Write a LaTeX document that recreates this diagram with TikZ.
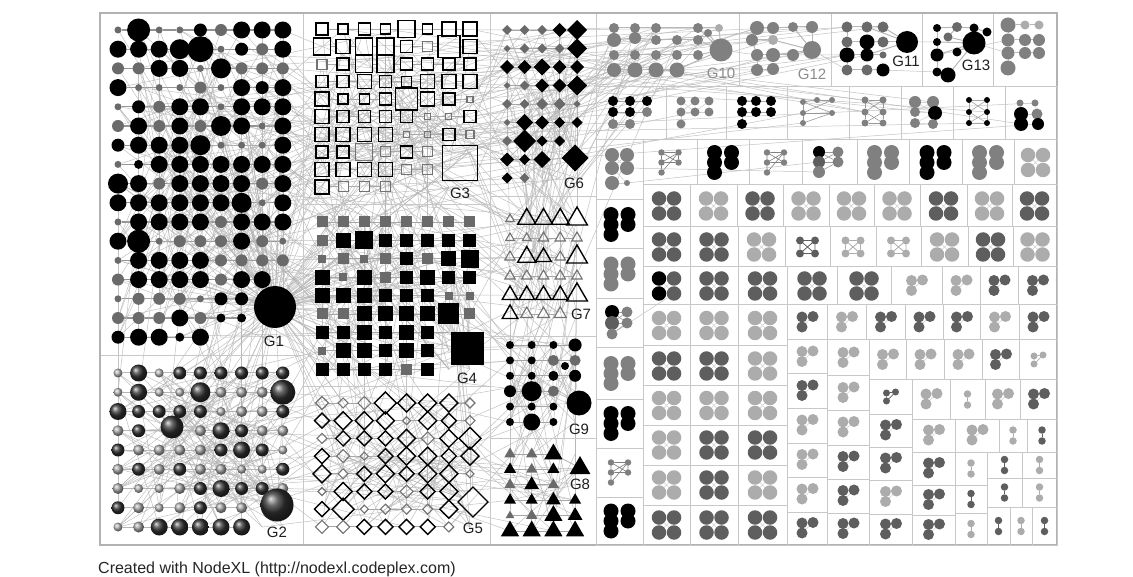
\documentclass[tikz,border=0pt]{standalone}
\usepackage{fontspec}
\setmainfont{Liberation Sans}
\usetikzlibrary{shapes.geometric}
\pgfdeclarelayer{bg}\pgfdeclarelayer{edges}\pgfdeclarelayer{frames}
\pgfsetlayers{bg,edges,frames,main}
\definecolor{ck}{HTML}{000000}
\definecolor{cd}{HTML}{5E5E5E}
\definecolor{cm}{HTML}{808080}
\definecolor{cl}{HTML}{ACACAC}
\definecolor{gg}{HTML}{6A6A6A}
\definecolor{frc}{HTML}{C8C8C8}
\definecolor{edc}{HTML}{B4B4B4}
\tikzset{
 ndot/.style={circle,inner sep=0pt,outer sep=0pt,minimum size=#1},
 nsq/.style={rectangle,inner sep=0pt,outer sep=0pt,minimum size=#1},
 ndia/.style={diamond,inner sep=0pt,outer sep=0pt,minimum size=#1},
 ntri/.style={regular polygon,regular polygon sides=3,inner sep=0pt,outer sep=0pt,minimum size=#1},
 sqk/.style={draw=black,line width=1.4pt},
 sqg/.style={draw=black!55,line width=1.1pt},
 lnk/.style={draw=edc,line width=0.5pt,opacity=0.8},
 hl/.style={draw=black!42,line width=1.3pt},
 hl2/.style={draw=black!28,line width=1pt},
 hl3/.style={draw=black!35,line width=0.9pt},
 inlnk/.style={draw=black!18,line width=0.6pt},
 boxf/.style={draw=frc,line width=1pt},
 glab/.style={font=\fontsize{15}{15}\selectfont,inner sep=0pt,text=black!88},
 As/.style={ndot=7,fill=gg}, Ag/.style={ndot=12,fill=gg}, Ab/.style={ndot=13,fill=black},
 AB/.style={ndot=17,fill=black}, At/.style={ndot=9,fill=black}, AH/.style={ndot=20,fill=black},
 AI/.style={ndot=23,fill=black}, AJ/.style={ndot=26,fill=black}, Ax/.style={shape=coordinate},
 Bs/.style={ndot=9,ball color=black!30}, Bm/.style={ndot=11,ball color=black!35},
 Bd/.style={ndot=13,ball color=black!80}, BD/.style={ndot=17,ball color=black!80},
 BE/.style={ndot=20,ball color=black!80}, BJ/.style={ndot=25,ball color=black!80}, Bx/.style={shape=coordinate},
 Ca/.style={nsq=6,sqg}, Cb/.style={nsq=8,sqg}, Cc/.style={nsq=10,sqg}, Ci/.style={nsq=17,sqg},
 Cd/.style={nsq=10,sqk}, Ce/.style={nsq=12,sqk}, Cf/.style={nsq=14,sqk}, Cg/.style={nsq=17,sqk},
 Ch/.style={nsq=22,sqk}, Cx/.style={shape=coordinate},
 Dp/.style={nsq=8,fill=gg}, Dq/.style={nsq=11,fill=gg}, Dr/.style={nsq=13,fill=black},
 DR/.style={nsq=15,fill=black}, DS/.style={nsq=18,fill=black}, DT/.style={nsq=21,fill=black}, Dx/.style={shape=coordinate},
 Eu/.style={ndia=8,sqg}, Ev/.style={ndia=10,sqg}, Ew/.style={ndia=13,sqg},
 Ey/.style={ndia=15,sqk}, Ez/.style={ndia=18,sqk}, EZ/.style={ndia=22,sqk}, Ex/.style={shape=coordinate},
 Fs/.style={ndia=7,fill=gg}, Fg/.style={ndia=10,fill=gg}, Fh/.style={ndia=12,fill=gg},
 Fm/.style={ndia=11,fill=black}, Fn/.style={ndia=14,fill=black}, Fo/.style={ndia=17,fill=black},
 Fp/.style={ndia=20,fill=black}, Fq/.style={ndia=23,fill=black}, Fx/.style={shape=coordinate},
 Ga/.style={ntri=10,sqg}, Gb/.style={ntri=12,sqg}, Gc/.style={ntri=14,sqg},
 Gd/.style={ntri=18,sqk}, Ge/.style={ntri=21,sqk}, Gf/.style={ntri=24,sqk}, Gx/.style={shape=coordinate},
 Ia/.style={ndot=8,fill=black}, Ib/.style={ndot=10,fill=black}, Ic/.style={ndot=12,fill=black},
 Id/.style={ndot=13,fill=black}, Ie/.style={ndot=17,fill=black}, If/.style={ndot=20,fill=black},
 Ig/.style={ndot=11,fill=gg}, Ix/.style={shape=coordinate},
 Ja/.style={ntri=10,fill=gg}, Jb/.style={ntri=13,fill=gg}, Jc/.style={ntri=14,fill=black},
 Jd/.style={ntri=17,fill=black}, Je/.style={ntri=21,fill=black}, Jx/.style={shape=coordinate}
}
% grid of named nodes
\newcommand\ggrid[7]{%
 \foreach \row [count=\gr from 0] in {#7}{%
  \foreach \code [count=\gc from 0] in \row {%
   \pgfmathsetmacro\gx{#2+#3*\gc}\pgfmathsetmacro\gy{#4+#5*\gr}%
   \edef\tmp{\noexpand\node[#6\code] (#1-\gr-\gc) at (\gx,\gy) {};}\tmp
  }}}
\newcommand\ndlist[2]{\foreach \px/\py/\ps/\pc [count=\pi] in {#2}{\node[ndot=\ps,fill=\pc] (#1-\pi) at (\px,\py) {};}}
\newcommand\hlinks[3]{\foreach \hr/\hm in {#2}{\foreach \hc in {0,...,\hm}{\pgfmathtruncatemacro\hcc{\hc+1}\draw[#3] (#1-\hr-\hc) -- (#1-\hr-\hcc);}}}
\def\pickA#1/#2/#3/#4/#5\relax{\pgfmathrandominteger{\ra}{#2}{#3}\pgfmathrandominteger{\ca}{#4}{#5}\def\na{#1}}
\def\pickB#1/#2/#3/#4/#5\relax{\pgfmathrandominteger{\rb}{#2}{#3}\pgfmathrandominteger{\cb}{#4}{#5}\def\nb{#1}}
\newcommand\rlinks[3]{\foreach \k in {1,...,#1}{\pickA#2\relax\pickB#3\relax\draw[lnk] (\na-\ra-\ca) -- (\nb-\rb-\cb);}}
\newcommand\hubl[3]{\foreach \k in {1,...,#1}{\pickB#3\relax\draw[lnk] (#2) -- (\nb-\rb-\cb);}}
% small boxes with clusters
\newcount\clid
\newcommand\clN[2]{}
\newcommand\clF[2]{%
 \foreach \q/\u/\v in {a/-7.5/-7.5,b/7.5/-7.5,c/-7.5/7.5,d/7.5/7.5}{\node[ndot=14.5,fill=#1] (#2\q) at (\u,\v) {};}%
 \begin{pgfonlayer}{edges}\draw[inlnk] (#2a)--(#2d) (#2b)--(#2c);\end{pgfonlayer}}
\newcommand\clX[2]{%
 \foreach \q/\u/\v in {a/-7.5/-6.5,b/7.5/-6.5,c/-7.5/6.5,d/7.5/6.5}{\node[ndot=8,fill=#1] (#2\q) at (\u,\v) {};}%
 \begin{pgfonlayer}{edges}\draw[draw=#1,line width=0.8pt] (#2a)--(#2b)--(#2d)--(#2c)--(#2a)--(#2d) (#2b)--(#2c);\end{pgfonlayer}}
\newcommand\clP[2]{%
 \foreach \q/\u/\v in {a/-8.5/-10,b/-8.5/0,c/-8.5/10,d/8.5/-10,e/8.5/0}{\node[ndot=15,fill=#1] (#2\q) at (\u,\v) {};}}
\newcommand\clS[2]{%
 \foreach \q/\u/\v in {a/-8.5/-10,b/-8.5/0,c/-8.5/10,d/8.5/-10,e/8.5/0}{\node[ndot=6.5,fill=#1] (#2\q) at (\u,\v) {};}%
 \begin{pgfonlayer}{edges}\draw[draw=#1,line width=0.6pt] (#2a)--(#2d) (#2a)--(#2e) (#2b)--(#2d) (#2b)--(#2e) (#2c)--(#2d) (#2a)--(#2b)--(#2c) (#2d)--(#2e);\end{pgfonlayer}}
\newcommand\clT[2]{%
 \foreach \q/\u/\v in {a/-5/-5.5,b/6/-6,c/-5/4.5}{\node[ndot=11,fill=#1] (#2\q) at (\u,\v) {};}%
 \begin{pgfonlayer}{edges}\draw[inlnk] (#2b)--(#2c);\end{pgfonlayer}}
\newcommand\clt[2]{%
 \foreach \q/\u/\v in {a/-4/-4,b/5/-5,c/-4/4}{\node[ndot=7,fill=#1] (#2\q) at (\u,\v) {};}%
 \begin{pgfonlayer}{edges}\draw[draw=#1,line width=0.7pt] (#2a)--(#2b)--(#2c)--(#2a);\end{pgfonlayer}}
\newcommand\clD[2]{%
 \node[ndot=7.5,fill=#1] (#2a) at (0,-5.5) {};\node[ndot=7.5,fill=#1] (#2b) at (0,5.5) {};%
 \begin{pgfonlayer}{edges}\draw[draw=#1,line width=1pt] (#2a)--(#2b);\end{pgfonlayer}}
\newcommand\bx[6]{%
 \begin{pgfonlayer}{frames}\draw[boxf] (#1,#2) rectangle (#3,#4);\end{pgfonlayer}%
 \pgfmathsetmacro\bcx{(#1+#3)/2}\pgfmathsetmacro\bcy{(#2+#4)/2}%
 \global\advance\clid by 1\relax
 \edef\cn{k\the\clid}\edef\bcol{c#6}%
 \begin{scope}[shift={(\bcx,\bcy)}]\csname cl#5\endcsname{\bcol}{\cn}\end{scope}}
\begin{document}
\begin{tikzpicture}[x=1pt,y=-1pt]
\useasboundingbox (0,0) rectangle (1133,577);
\begin{pgfonlayer}{bg}\fill[white] (0,0) rectangle (1133,577);\end{pgfonlayer}
% ---------- group frames
\begin{pgfonlayer}{frames}
\draw[boxf] (100,13) rectangle (303,356);
\draw[boxf] (100,356) rectangle (303,545);
\draw[boxf] (303,13) rectangle (490,205);
\draw[boxf] (303,205) rectangle (490,387);
\draw[boxf] (303,387) rectangle (490,545);
\draw[boxf] (490,13) rectangle (596,197);
\draw[boxf] (490,197) rectangle (596,337);
\draw[boxf] (490,337) rectangle (596,438);
\draw[boxf] (490,438) rectangle (596,545);
\draw[boxf] (596,13) rectangle (739,87);
\draw[boxf] (739,13) rectangle (831,87);
\draw[boxf] (831,13) rectangle (922,87);
\draw[boxf] (922,13) rectangle (993,87);
\draw[boxf] (993,13) rectangle (1057,87);
\draw[draw=black!30,line width=1.5pt] (100,13) rectangle (1057,545);
\end{pgfonlayer}
% ---------- G1
\ggrid{g1}{118}{20.6}{30}{19.2}{A}{{s,I,s,s,b,g,B,B,B},{B,B,B,H,J,s,b,g,B},{g,g,B,B,s,H,g,g,g},{B,s,s,s,g,s,B,b,B},{s,b,g,B,B,s,B,B,B},{g,B,g,B,g,H,B,s,B},{b,B,B,B,H,s,s,s,B},{s,t,B,B,B,B,B,B,B},{H,B,g,B,B,B,B,g,B},{B,B,B,B,B,B,H,s,B},{s,B,B,B,B,g,B,B,B},{B,I,s,g,g,g,B,g,s},{s,B,B,B,B,g,g,g,g},{g,B,B,B,B,g,B,B,x},{s,g,g,g,s,b,b,x,x},{g,g,g,B,g,t,t,x,x},{b,B,B,t,B,x,x,x,x}}
\node[ndot=42,fill=black] (g1h) at (275,307) {};
\node[glab] (l1) at (274,341) {G1};
% ---------- G2
\ggrid{g2}{118}{20.6}{373}{19.25}{B}{{s,D,s,d,d,d,d,d,d},{s,D,s,s,E,m,m,m,J},{D,d,d,d,d,s,m,m,d},{m,d,x,x,m,D,d,m,m},{d,m,m,m,m,d,D,d,s},{m,d,m,d,m,m,s,s,d},{m,s,s,m,d,D,d,d,m},{d,m,s,m,d,m,m,x,x},{s,m,D,D,D,D,D,x,x}}
\node[ndot=23,ball color=black!80] (g2b) at (172,427) {};
\node[ndot=33,ball color=black!80] (g2h) at (277,505) {};
\node[glab] (l2) at (277,532) {G2};
% ---------- G3
\ggrid{g3}{322}{21.14}{29}{17.55}{C}{{e,d,e,d,g,d,f,f},{g,f,g,g,e,c,h,f},{c,e,g,g,e,e,e,e},{e,e,f,e,d,f,f,f},{f,d,d,e,h,f,e,a},{f,e,e,e,e,a,a,e},{f,f,f,f,a,a,e,b},{e,e,i,c,e,c,x,x},{f,f,f,f,c,c,x,x},{f,c,c,c,x,x,x,x}}
\node[nsq=35,sqk] (g3h) at (460,163) {};
\node[glab] (l3) at (460,193) {G3};
% ---------- G4
\ggrid{g4}{322}{21.14}{222}{18.4}{D}{{q,q,q,q,q,q,q,q},{q,R,S,r,r,r,r,r},{p,q,p,q,r,q,R,S},{R,p,R,q,r,R,r,r},{R,R,R,r,r,r,p,p},{q,q,R,R,R,R,T,q},{r,r,R,r,R,r,x,x},{p,R,R,r,R,r,x,x},{r,r,r,r,q,r,x,x}}
\node[nsq=33,fill=black] (g4h) at (467,349) {};
\node[glab] (l4) at (467,378) {G4};
% ---------- G5
\ggrid{g5}{322}{21.14}{403}{17.7}{E}{{w,v,w,Z,z,z,z,v},{y,z,z,z,u,z,y,v},{v,y,y,y,z,w,z,Z},{y,w,u,y,z,z,y,z},{z,v,y,z,y,z,z,u},{u,z,y,y,w,y,z,x},{y,Z,u,v,v,v,z,x},{w,w,y,y,y,y,v,x}}
\node[ndia=30,sqk] (g5h) at (473,502) {};
\node[glab] (l5) at (473,528) {G5};
% ---------- G6
\ggrid{g6}{507}{17.5}{30}{18.5}{F}{{g,g,g,n,p},{s,g,g,g,p},{n,n,o,n,n},{s,g,n,n,p},{g,g,h,h,s},{s,o,n,m,m},{g,q,m,m,x},{n,m,o,x,x},{m,g,x,x,x}}
\node[ndia=27,fill=black] (g6h) at (575,158) {};
\node[glab] (l6) at (574,183) {G6};
% ---------- G7
\ggrid{g7}{510}{16.75}{219}{19}{G}{{a,e,e,e,f},{a,a,b,b,b},{b,e,d,b,f},{b,b,b,b,b},{d,d,d,d,f},{d,c,c,c,x}}
\node[glab] (l7) at (581,314) {G7};
% ---------- G9
\ggrid{g9}{510}{21.7}{345}{15.4}{I}{{a,a,a,d},{a,a,g,g},{a,a,b,c},{c,f,g,x},{a,a,a,x},{a,e,a,x}}
\node[ndot=8,fill=black] (g9e) at (565,366) {};
\node[ndot=25,fill=black] (g9h) at (579,403) {};
\node[glab] (l9) at (579,429) {G9};
% ---------- G8
\ggrid{g8}{510}{21.7}{454}{15.4}{J}{{b,b,e,x},{c,b,c,x},{b,d,b,x},{c,c,d,c},{a,b,e,d},{e,e,e,e}}
\node[ntri=24,fill=black] (g8h) at (580,468) {};
\node[glab] (l8) at (580,484) {G8};
% ---------- top row groups
\ndlist{g10}{614/28/10/cm,635/28/10/cm,656/28/10/cm,698/28/10/cm,719/28/8/cl,614/40/14/cm,635/38/12/cm,656/40/10/cm,677/40/10/cm,698/40/10/cm,708/33/8/cm,614/55/10/cm,635/55/10/cm,656/55/10/cm,677/55/10/cm,698/55/10/cm,614/70/14/cm,635/70/15/cm,656/70/15/cm,677/70/15/cm}
\node[ndot=23,fill=cm] (g10h) at (721,50) {};
\node[glab,text=black!45] (l10) at (721,73) {G10};
\ndlist{g12}{757/28/14/cm,773/28/12/cm,793/27/10/cm,812/27/12/cm,752/40/12/cm,773/40/10/cl,757/55/12/cm,773/55/14/cm,793/55/12/cm,757/70/12/cm,773/69/12/cm}
\node[ndot=18,fill=cm] (g12h) at (812,50) {};
\node[glab,text=black!45] (l12) at (812,74) {G12};
\ndlist{g11}{847/27/11/gg,867/27/11/gg,883/27/11/gg,847/42/11/gg,867/42/15/ck,883/42/11/gg,847/55/15/ck,867/55/13/ck,883/55/7/gg,847/70/11/gg,867/70/11/gg,883/70/13/ck}
\node[ndot=22,fill=black] (g11h) at (907,42) {};
\node[glab] (l11) at (906,61) {G11};
\ndlist{g13}{937/28/8/ck,957/27/10/gg,974/28/9/ck,987/32/9/ck,948/37/9/gg,937/42/8/ck,937/55/13/ck,957/52/9/ck,937/72/9/ck,948/75/15/ck}
\node[ndot=23,fill=black] (g13h) at (974,43) {};
\node[glab] (l13) at (976,65) {G13};
\ndlist{b5}{1008/25/15/cm,1025/25/9/cl,1039/25/9/cl,1008/40/13/cm,1025/40/12/cm,1039/40/12/cm,1008/53/13/cm,1025/53/12/cm,1039/53/12/cm,1008/68/15/cm}
% ---------- row 2 boxes
\foreach \xa/\xb in {596/666,666/726,726/787,787/849,849/901,901/953,953/1005,1005/1057}{\bx{\xa}{87}{\xb}{140}{N}{k}}
\ndlist{rA}{613/101/10/ck,630/101/10/ck,647/101/10/ck,613/112/10/ck,630/112/10/ck,647/112/10/cm,613/124/10/cm,630/124/10/cm}
\ndlist{rB}{681/101/9/cm,695/101/9/cm,709/101/9/cm,681/112/9/cm,695/112/9/cm,709/112/9/cm,681/124/9/cm}
\ndlist{rC}{742/101/10/ck,756/101/10/ck,771/101/10/ck,742/112/10/ck,756/112/10/ck,771/112/10/ck,742/124/10/ck}
\ndlist{rD}{803/102/6/cm,817/100/6/cm,832/100/6/cm,803/113/6/cm,832/113/6/cm,803/123/6/cm}
\ndlist{rE}{865/100/7/cm,883/100/7/cm,865/112/7/cm,883/112/7/cm,865/123/7/cm,883/123/7/cm}
\ndlist{rF}{915/102/12/cm,933/102/12/cm,915/112/10/cm,935/113/14/ck,915/123/10/cm,933/124/10/cm}
\ndlist{rG}{969/100/6/ck,987/100/6/ck,969/112/6/ck,987/112/6/ck,969/123/6/ck,987/123/6/ck}
\ndlist{rH}{1020/103/7/cm,1035/103/7/cm,1021/114/14/ck,1037/114/11/cm,1021/124/14/ck,1038/124/12/ck}
% ---------- left column
\bx{596}{140}{643}{200}{N}{m}
\ndlist{lc1}{612/155/14/cm,627/155/14/cm,612/168/14/cm,627/168/14/cm,612/183/14/cm,627/183/6/cm}
\bx{596}{200}{643}{249}{P}{k}
\bx{596}{249}{643}{299}{P}{m}
\bx{596}{299}{643}{348}{N}{k}
\ndlist{lc4}{612/312/14/ck,627/312/11/cm,612/323/14/cd,627/323/11/cm,612/334/11/cm}
\bx{596}{348}{643}{399}{P}{m}
\bx{596}{399}{643}{448}{P}{k}
\bx{596}{448}{643}{497}{S}{m}
\bx{596}{497}{643}{545}{P}{k}
% ---------- row 3
\bx{643}{140}{697}{185}{S}{m}
\bx{697}{140}{749}{185}{P}{k}
\bx{749}{140}{802}{185}{S}{m}
\bx{802}{140}{857}{185}{N}{k}
\ndlist{r3m}{819/152/12/ck,838/152/11/cm,819/162/12/cd,838/162/11/cm,819/172/12/cm}
\bx{857}{140}{909}{185}{P}{m}
\bx{909}{140}{962}{185}{P}{k}
\bx{962}{140}{1014}{185}{P}{m}
\bx{1014}{140}{1057}{185}{F}{l}
% ---------- row 4
\bx{643}{185}{690}{227}{F}{d}
\bx{690}{185}{737}{227}{F}{l}
\bx{737}{185}{783}{227}{F}{d}
\bx{783}{185}{829}{227}{F}{l}
\bx{829}{185}{874}{227}{F}{l}
\bx{874}{185}{920}{227}{F}{l}
\bx{920}{185}{967}{227}{F}{d}
\bx{967}{185}{1012}{227}{F}{l}
\bx{1012}{185}{1057}{227}{F}{d}
% ---------- row 5
\bx{643}{227}{690}{267}{F}{d}
\bx{690}{227}{738}{267}{F}{d}
\bx{738}{227}{785}{267}{F}{l}
\bx{785}{227}{830}{267}{X}{d}
\bx{830}{227}{876}{267}{X}{l}
\bx{876}{227}{921}{267}{X}{l}
\bx{921}{227}{968}{267}{F}{l}
\bx{968}{227}{1013}{267}{F}{d}
\bx{1013}{227}{1057}{267}{F}{l}
% ---------- row 6
\bx{643}{267}{690}{305}{N}{k}
\ndlist{r6a}{659/278.5/14.5/ck,674/278.5/14.5/cd,659/293.5/14.5/ck,674/293.5/14.5/cd}
\bx{690}{267}{738}{305}{F}{d}
\bx{738}{267}{787}{305}{F}{d}
\bx{787}{267}{837}{305}{F}{d}
\bx{837}{267}{891}{305}{F}{d}
\bx{891}{267}{942}{305}{T}{l}
\bx{942}{267}{980}{305}{T}{l}
\bx{980}{267}{1018}{305}{T}{d}
\bx{1018}{267}{1057}{305}{T}{d}
% ---------- left three columns below
\foreach \ya/\yb/\cA/\cB/\cC in {305/346/l/l/l,346/386/d/d/l,386/425/l/l/l,425/465/l/d/d,465/505/l/d/l,505/545/d/d/d}{%
 \bx{643}{\ya}{690}{\yb}{F}{\cA}\bx{690}{\ya}{738}{\yb}{F}{\cB}\bx{738}{\ya}{787}{\yb}{F}{\cC}}
% ---------- bottom right
\bx{787}{305}{827}{340}{T}{d}
\bx{827}{305}{866}{340}{T}{l}
\bx{866}{305}{905}{340}{T}{d}
\bx{905}{305}{943}{340}{T}{d}
\bx{943}{305}{980}{340}{T}{d}
\bx{980}{305}{1019}{340}{T}{l}
\bx{1019}{305}{1057}{340}{T}{d}
\bx{787}{340}{827}{374}{T}{l}
\bx{787}{374}{827}{408}{T}{d}
\bx{787}{408}{827}{443}{T}{l}
\bx{787}{443}{827}{477}{T}{l}
\bx{787}{477}{827}{512}{T}{l}
\bx{787}{512}{827}{545}{T}{d}
\bx{827}{340}{869}{376}{T}{l}
\bx{827}{376}{869}{410}{T}{l}
\bx{827}{410}{869}{445}{T}{l}
\bx{827}{445}{869}{479}{T}{d}
\bx{827}{479}{869}{513}{T}{d}
\bx{827}{513}{869}{545}{T}{d}
\bx{869}{340}{906}{380}{T}{l}
\bx{906}{340}{944}{380}{T}{l}
\bx{944}{340}{982}{380}{T}{l}
\bx{982}{340}{1019}{380}{T}{d}
\bx{1019}{340}{1057}{380}{t}{l}
\bx{869}{380}{912}{414}{t}{d}
\bx{912}{380}{950}{419}{T}{l}
\bx{950}{380}{985}{419}{D}{l}
\bx{985}{380}{1020}{419}{T}{l}
\bx{1020}{380}{1057}{419}{T}{d}
\bx{869}{414}{912}{447}{T}{d}
\bx{869}{447}{912}{480}{T}{d}
\bx{869}{480}{912}{514}{T}{l}
\bx{869}{514}{912}{545}{T}{d}
\bx{912}{419}{955}{452}{T}{l}
\bx{955}{419}{999}{452}{T}{l}
\bx{999}{419}{1027}{452}{D}{l}
\bx{1027}{419}{1057}{452}{D}{d}
\bx{912}{452}{955}{485}{T}{d}
\bx{912}{485}{955}{515}{T}{d}
\bx{912}{515}{955}{545}{T}{d}
\bx{955}{452}{987}{485}{D}{l}
\bx{955}{485}{987}{513}{D}{d}
\bx{955}{513}{987}{545}{D}{l}
\bx{987}{452}{1022}{478}{D}{d}
\bx{1022}{452}{1057}{478}{D}{l}
\bx{987}{478}{1022}{507}{D}{d}
\bx{1022}{478}{1057}{507}{D}{l}
\bx{987}{507}{1010}{545}{D}{d}
\bx{1010}{507}{1032}{545}{D}{l}
\bx{1032}{507}{1057}{545}{D}{d}
% ---------- caption
\node[anchor=west,inner sep=0pt,font=\fontsize{16}{16}\selectfont,text=black!85] (cap) at (98,569) {Created with NodeXL (http://nodexl.codeplex.com)};
% ---------- edges
\begin{pgfonlayer}{edges}
\pgfmathsetseed{4242}
\hlinks{g1}{0/7,1/7,2/7,3/7,4/7,5/7,6/7,7/7,8/7,9/7,10/7,11/7,12/7,13/6,14/5,15/5,16/3}{hl}
\hubl{55}{g1h}{g1/0/15/0/8}
\rlinks{45}{g1/0/7/0/8}{g1/9/16/0/8}
\rlinks{25}{g1/0/16/0/3}{g1/0/16/5/8}
\rlinks{40}{g1/0/16/0/8}{g3/0/9/0/7}
\rlinks{45}{g1/0/16/0/8}{g4/0/8/0/7}
\hubl{30}{g1h}{g4/0/8/0/7}
\hubl{12}{g1h}{g3/0/9/0/7}
\hubl{10}{g1h}{g5/0/7/0/7}
\hubl{12}{g1h}{g2/0/8/0/8}
\rlinks{20}{g1/0/16/0/8}{g2/0/8/0/8}
\rlinks{15}{g1/0/16/0/8}{g6/0/8/0/4}
\rlinks{12}{g1/0/16/0/8}{g7/0/5/0/4}
\hlinks{g2}{0/7,1/7,2/7,3/7,4/7,5/7,6/7,7/5,8/5}{hl2}
\rlinks{60}{g2/0/8/0/3}{g2/0/8/5/8}
\rlinks{25}{g2/0/3/0/8}{g2/5/8/0/8}
\hubl{15}{g2h}{g2/0/8/0/8}
\hubl{8}{g2b}{g2/0/8/0/8}
\rlinks{25}{g2/0/8/0/8}{g5/0/7/0/7}
\rlinks{10}{g2/0/8/0/8}{g4/0/8/0/7}
\hlinks{g3}{0/6,1/6,2/6,3/6,4/6,5/6,6/6,7/4,8/4,9/2}{hl3}
\rlinks{30}{g3/0/4/0/7}{g3/5/9/0/7}
\hubl{12}{g3h}{g3/0/9/0/7}
\rlinks{25}{g3/0/9/0/7}{g6/0/8/0/4}
\rlinks{25}{g3/0/9/0/7}{g4/0/8/0/7}
\rlinks{12}{g3/0/9/0/7}{g7/0/5/0/4}
\hlinks{g4}{0/6,1/6,2/6,3/6,4/6,5/6,6/5,7/4,8/4}{hl3}
\rlinks{35}{g4/0/3/0/7}{g4/5/8/0/7}
\hubl{15}{g4h}{g4/0/8/0/7}
\rlinks{25}{g4/0/8/0/7}{g5/0/7/0/7}
\rlinks{15}{g4/0/8/0/7}{g7/0/5/0/4}
\rlinks{15}{g4/0/8/0/7}{g9/0/5/0/3}
\hlinks{g5}{0/6,1/6,2/6,3/6,4/6,5/5,6/5,7/5}{hl3}
\rlinks{40}{g5/0/3/0/7}{g5/4/7/0/7}
\hubl{12}{g5h}{g5/0/7/0/7}
\rlinks{15}{g5/0/7/0/7}{g8/0/5/0/3}
\rlinks{10}{g5/0/7/0/7}{g9/0/5/0/3}
\hlinks{g6}{0/3,1/3,2/3,3/3,4/3,5/3,6/2,7/1}{hl3}
\rlinks{25}{g6/0/4/0/4}{g6/5/8/0/4}
\hubl{10}{g6h}{g6/0/8/0/4}
\rlinks{30}{g6/0/8/0/4}{g7/0/5/0/4}
\hlinks{g7}{0/3,1/3,2/3,3/3,4/3,5/2}{hl3}
\rlinks{15}{g7/0/2/0/4}{g7/3/5/0/4}
\rlinks{20}{g7/0/5/0/4}{g9/0/5/0/3}
\hlinks{g9}{0/2,1/2,2/2,3/1,4/1,5/1}{hl3}
\rlinks{10}{g9/0/2/0/3}{g9/3/5/0/3}
\hubl{8}{g9h}{g9/0/5/0/3}
\rlinks{20}{g9/0/5/0/3}{g8/0/5/0/3}
\hlinks{g8}{0/1,1/1,2/1,3/2,4/2,5/2}{hl3}
\rlinks{12}{g8/0/2/0/3}{g8/3/5/0/3}
\hubl{6}{g8h}{g8/0/5/0/3}
% to the right-hand groups
\foreach \k in {1,...,25}{\pickA g6/0/8/0/4\relax\pgfmathrandominteger{\ib}{1}{20}\draw[lnk] (\na-\ra-\ca) -- (g10-\ib);}
\foreach \k in {1,...,10}{\pickA g3/0/9/0/7\relax\pgfmathrandominteger{\ib}{1}{11}\draw[lnk] (\na-\ra-\ca) -- (g12-\ib);}
\foreach \k in {1,...,6}{\pickA g1/0/9/0/8\relax\pgfmathrandominteger{\ib}{1}{12}\draw[lnk] (\na-\ra-\ca) -- (g11-\ib);}
\foreach \k/\tg in {1/rD,2/rE,3/rF,4/rG,5/rH,6/rD,7/rE,8/rG,9/rH,10/rF,11/rA,12/rB,13/rC,14/rH,15/rE}{\pickA g3/0/9/0/7\relax\pgfmathrandominteger{\ib}{1}{6}\draw[lnk] (\na-\ra-\ca) -- (\tg-\ib);}
\foreach \k in {1,...,8}{\pickA g7/0/5/0/4\relax\pgfmathrandominteger{\ib}{1}{20}\draw[lnk] (\na-\ra-\ca) -- (g10-\ib);}
% inside the top-row groups
\foreach \a/\b in {1/2,2/3,3/4,4/5,6/7,7/8,8/9,9/10,12/13,13/14,14/15,15/16,17/18,18/19,19/20}{\draw[hl2] (g10-\a) -- (g10-\b);}
\foreach \a in {4,5,10,11,16,20}{\draw[hl2] (g10-\a) -- (g10h);}
\foreach \a/\b in {1/2,2/3,3/4,5/6,7/8,8/9,10/11,1/5,5/7,7/10}{\draw[hl2] (g12-\a) -- (g12-\b);}
\foreach \a in {3,4,6,8,9}{\draw[hl2] (g12-\a) -- (g12h);}
\foreach \a/\b in {1/2,2/3,4/5,5/6,7/8,8/9,10/11,11/12,1/4,4/7,7/10}{\draw[hl2] (g11-\a) -- (g11-\b);}
\foreach \a in {2,3,5,6,8}{\draw[hl2] (g11-\a) -- (g11h);}
\foreach \a/\b in {1/2,2/3,3/4,2/5,1/6,9/10,6/7,7/9}{\draw[hl2] (g13-\a) -- (g13-\b);}
\foreach \a in {5,6,7,8,10}{\draw[hl2] (g13-\a) -- (g13h);}
\foreach \a/\b in {1/2,2/3,4/5,5/6,7/8,8/9,1/4,4/7,7/10}{\draw[hl2] (b5-\a) -- (b5-\b);}
\draw[lnk] (g10-20) -- (g12-10) (g10h) -- (g12-7) (g12-9) -- (g11-7) (g12h) -- (g11-10) (g11-12) -- (g13-9) (g11h) -- (g13-6) (g13h) -- (b5-7) (g13-7) -- (b5-4);
% row 2 boxes
\foreach \a/\b in {1/2,2/3,4/5,5/6,7/8,1/4,4/7}{\draw[hl3] (rA-\a) -- (rA-\b);}
\foreach \a/\b in {1/5,2/4,4/6,3/5,4/7}{\draw[inlnk] (rB-\a) -- (rB-\b);}
\foreach \a/\b in {1/2,2/3,4/5,5/6,1/4,4/7}{\draw[hl3] (rC-\a) -- (rC-\b);}
\foreach \a/\b in {1/2,2/3,1/4,4/6,4/3,4/5,6/5,1/5}{\draw[draw=black!40,line width=0.6pt] (rD-\a) -- (rD-\b);}
\foreach \a/\b in {1/4,2/3,3/6,4/5,1/2,5/6,1/3,3/5,2/4,4/6}{\draw[draw=black!40,line width=0.6pt] (rE-\a) -- (rE-\b);}
\foreach \a/\b in {1/4,2/3,3/4,5/4,1/2,5/6}{\draw[inlnk] (rF-\a) -- (rF-\b);}
\foreach \a/\b in {1/4,2/3,3/6,4/5,1/2,5/6,1/3,3/5,2/4,4/6}{\draw[draw=black!35,line width=0.6pt] (rG-\a) -- (rG-\b);}
\foreach \a/\b in {1/2,2/4,3/4,1/3}{\draw[inlnk] (rH-\a) -- (rH-\b);}
% left column specials
\foreach \a/\b in {1/4,2/3,3/6,5/6}{\draw[inlnk] (lc1-\a) -- (lc1-\b);}
\foreach \a/\b in {1/2,1/4,3/2,3/4,3/5,5/4}{\draw[draw=black!40,line width=0.6pt] (lc4-\a) -- (lc4-\b);}
\foreach \a/\b in {1/2,1/4,3/2,3/4,5/4}{\draw[draw=black!40,line width=0.6pt] (r3m-\a) -- (r3m-\b);}
\draw[inlnk] (r6a-1) -- (r6a-4) (r6a-2) -- (r6a-3);
\draw[lnk] (lc1-6) -- (r3m-3) (lc1-4) -- (r3m-5) (lc4-5) -- (r6a-4);
\end{pgfonlayer}
\end{tikzpicture}
\end{document}
